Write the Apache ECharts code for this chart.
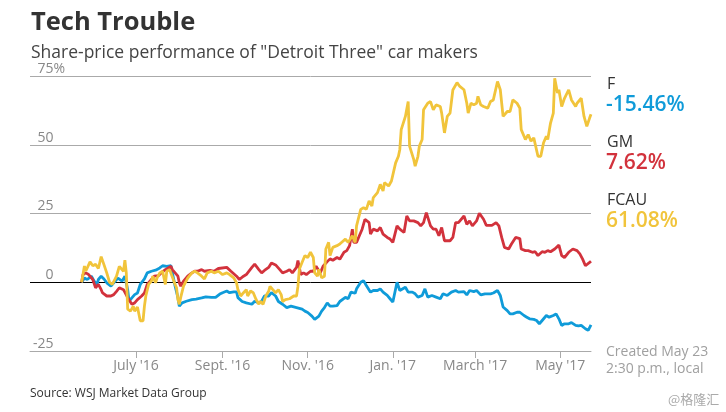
<!DOCTYPE html>
<html><head><meta charset="utf-8">
<script src="https://cdn.jsdelivr.net/npm/echarts@6/dist/echarts.min.js"></script>
<style>html,body{margin:0;padding:0;background:#fff}#c{width:726px;height:412px}</style>
</head><body><div id="c"></div>
<script>
const titleText = 'Tech Trouble';
const subtitleText = 'Share-price performance of "Detroit Three" car makers';
const startDate = '2016-05-23';
const tickDates = ['2016-07-01','2016-09-01','2016-11-01','2017-01-01','2017-03-01','2017-05-01'];
const tickLabels = ["July '16","Sept. '16","Nov. '16","Jan. '17","March '17","May '17"];
const yTicks = [-25, 0, 25, 50, 75];
const seriesNames = ['F', 'GM', 'FCAU'];
const finalChanges = ['-15.46%', '7.62%', '61.08%'];
const seriesColors = ['#0f9bd9', '#d2323c', '#f1c43b'];
const noteLines = ['Created May 23', '2:30 p.m., local'];
const sourceText = 'Source: WSJ Market Data Group';
const watermarkText = '@格隆汇';

// [days since start date, % change]
const fData = [[0,0],[2,1.5],[4,1],[7,2.2],[9,0.4],[11,-0.8],[12,1],[14,2.2],[16,1.2],[18,-0.2],[21,-1.4],[23,-0.2],[26,1.5],[27,2.2],[29,0.4],[31,2.2],[33,-2.7],[34,-6.9],[36,-5.7],[38,-4.5],[40,-3.9],[42,-0.8],[45,1.2],[47,3.4],[50,4],[53,4.4],[56,5.2],[58,6],[61,5.8],[64,6],[65,3.4],[67,-1.4],[69,-5.6],[70,-8.7],[72,-7.5],[75,-6.9],[79,-6.3],[82,-6.1],[86,-5.7],[89,-5.3],[93,-5.5],[96,-5.5],[99,-4.3],[101,-3.8],[104,-3.2],[106,-3.8],[109,-3.5],[111,-3.5],[112,-5.6],[115,-7],[118,-7.5],[122,-8],[124,-6.9],[127,-7.5],[129,-6.9],[131,-5],[134,-5],[136,-3.8],[139,-5],[141,-7],[144,-8],[147,-9.2],[150,-8.7],[154,-9.2],[158,-9.8],[160,-10.5],[162,-11],[165,-12.3],[167,-13.5],[170,-12.3],[172,-10.5],[174,-9.2],[176,-7.5],[178,-8.7],[180,-8.7],[183,-8.5],[185,-7],[189,-5.5],[191,-6],[193,-3.6],[196,-4],[197,-2.4],[200,0],[202,0.6],[204,-1.2],[207,-3.6],[209,-3],[212,-3],[214,-2.4],[216,-3.6],[219,-4.8],[221,-6],[223,-7.2],[226,0],[228,-3],[229,-2.4],[232,-1.8],[234,-3.6],[237,-3.6],[239,-4.2],[241,-5.4],[244,-4.8],[246,-2.4],[248,-5.4],[251,-4.8],[254,-5.4],[257,-6],[259,-4.2],[262,-4.8],[265,-3.6],[268,-3],[270,-3.6],[271,-3.6],[274,-3.4],[276,-4.6],[278,-3],[281,-3.4],[283,-3],[286,-4.6],[289,-4.2],[293,-4.2],[295,-3.9],[298,-3],[300,-4.8],[302,-9],[305,-10.3],[307,-11.5],[309,-11.5],[312,-10.9],[314,-10.9],[317,-12.1],[319,-12.7],[321,-13.3],[324,-13.5],[326,-13.9],[328,-15.1],[330,-13.9],[333,-12.1],[335,-12.7],[338,-12.1],[340,-11.5],[342,-13.3],[344,-15.7],[346,-15.1],[349,-15.1],[351,-14.7],[354,-15.7],[356,-15.9],[358,-15.7],[361,-16.9],[363,-17.5],[365,-15.46]];
const gmData = [[0,0],[1,2.8],[3,3.4],[5,2.8],[6,3.4],[8,1],[10,-2],[12,-0.8],[14,-2.7],[15,-3.9],[18,-5],[19,-4.5],[21,-5],[23,-4.5],[25,-3.3],[27,-2],[30,-2.7],[31,-2.7],[33,-5.6],[36,-8],[38,-7.5],[40,-6.3],[43,-5],[45,-3.9],[47,-0.8],[50,1],[52,2.2],[55,2.4],[57,3.4],[60,4.6],[62,5.2],[64,5.8],[65,4.6],[67,3.4],[69,2.2],[70,-0.2],[71,-1.4],[73,0.4],[76,2.2],[79,3.4],[81,4],[83,4],[86,4.6],[88,4],[92,4.3],[95,4],[98,5],[99,4.7],[104,5.4],[107,4],[111,2.2],[113,1],[116,2.2],[118,2.8],[122,5.4],[124,6.6],[127,4.6],[129,3.4],[131,4.3],[134,5.4],[136,7],[139,6.3],[142,4.6],[144,3.4],[147,4],[149,4.6],[151,3.4],[154,5.4],[155,7.9],[157,2.8],[159,3.4],[161,2.8],[164,4],[166,4],[168,5.8],[171,3.4],[173,5.8],[176,7.5],[178,8.5],[180,8],[183,9],[185,8.4],[188,10.9],[190,11.5],[192,13.3],[194,19.3],[195,14.5],[197,14.5],[199,16.9],[201,19.3],[203,22.9],[206,21.7],[207,17.5],[209,19.3],[212,18.7],[214,19.9],[216,17.5],[219,16.3],[221,15.7],[223,14.5],[226,20.5],[228,19.3],[231,18.1],[233,24.1],[235,22.3],[238,22.3],[241,21.7],[243,20.5],[245,21.7],[247,25.3],[250,20.5],[252,19.3],[254,19.3],[256,16.9],[258,19.9],[260,15.1],[264,15.1],[266,16.3],[268,21.7],[270,21.7],[271,22.3],[274,24.1],[276,21.1],[278,22.3],[280,20.5],[283,22.3],[285,25.1],[288,22.9],[290,20.7],[294,20.7],[297,21.7],[299,20.5],[301,16.3],[303,12.7],[306,12.1],[308,13.9],[311,16.3],[314,15.9],[315,12.1],[318,11.5],[320,11.5],[323,10.9],[325,11.1],[327,9.7],[330,11.1],[332,10.9],[334,11.5],[336,11.1],[339,12.1],[342,13.5],[344,9.7],[346,9],[349,10.9],[352,12.1],[355,11.5],[357,10.3],[359,8.4],[361,6],[364,7.2],[365,7.62]];
const fcauData = [[0,0],[2,5.9],[3,4.1],[6,7.4],[8,6],[10,6.5],[12,5],[14,9.3],[16,6.4],[18,3.4],[20,0],[22,-0.8],[25,2.2],[27,5.8],[28,5.6],[30,4],[31,8],[32,3.4],[33,-9.8],[35,-10.5],[37,-8.7],[38,-10.5],[40,-9],[42,-14],[44,-14],[45,-8.7],[46,-5],[48,-0.8],[50,0.4],[51,2.2],[53,-0.2],[54,1.5],[56,3.4],[58,4],[60,-0.8],[61,4],[63,4.6],[64,4.8],[67,-0.8],[68,-2],[69,-6.3],[70,-8],[71,-5.5],[73,-1.4],[76,1.5],[79,3.4],[81,4],[83,3.4],[86,2.2],[88,1.2],[90,3.4],[93,4],[95,3.4],[98,4],[99,4.7],[101,2.8],[104,3.4],[106,2.8],[109,1.6],[111,-0.2],[112,-2.7],[114,-5],[116,-3.8],[118,-2.7],[119,-5],[121,-3.2],[123,-3.8],[125,-6.3],[127,-8],[128,-6.9],[130,-8],[132,-5],[134,-3.3],[135,-1.5],[137,-2.7],[139,-3.8],[141,-2.7],[143,-4.5],[144,-7],[146,-6.3],[149,-6],[152,-5],[154,-5],[155,-1.5],[156,4.7],[158,7.3],[160,9.7],[162,9],[164,10.9],[166,9],[167,3.4],[169,2.2],[170,4.7],[172,1.6],[174,2.2],[175,12.1],[177,14.5],[178,9.7],[180,12.7],[183,13.3],[185,13.9],[189,15.7],[191,14.5],[194,16.9],[196,14.5],[197,20.5],[200,26.5],[202,27.1],[204,26.5],[206,29.6],[208,27.7],[209,30.8],[212,32.6],[214,35.6],[216,33.2],[217,36.2],[220,35],[222,36.8],[225,43.4],[227,45.8],[228,48.3],[229,55.5],[232,60.3],[234,65.7],[235,49.5],[238,44.6],[239,42.2],[241,45.8],[242,49.5],[244,51.9],[245,62.7],[248,65.1],[250,65.7],[252,62.7],[254,64.5],[257,63.9],[258,61.5],[260,54.3],[262,60.3],[264,61.5],[266,69.9],[269,72.6],[271,71.2],[274,70],[276,65.1],[277,61.5],[279,65.1],[281,64.5],[283,65.1],[284,67.6],[286,64.5],[288,63.9],[291,63.3],[293,65.7],[295,66.3],[298,73],[300,70],[302,60.3],[305,62.1],[307,62.1],[309,66.3],[312,65.1],[314,63.3],[315,55.5],[318,51.9],[320,53.7],[322,51.3],[324,52.5],[327,45.8],[329,45.8],[331,50.7],[333,53.1],[334,51.9],[336,57.9],[338,61.5],[339,74.2],[341,68.8],[342,70],[344,63.9],[346,66.9],[349,70],[351,66.3],[354,63.9],[355,65.1],[358,66.9],[360,60.3],[362,56.7],[364,59.7],[365,61.08]];

const FONT = '"Open Sans", "Noto Sans", sans-serif';
const DAY = 864e5;
const t0 = Date.parse(startDate + 'T00:00:00Z');
const toPts = arr => arr.map(p => [t0 + p[0] * DAY, p[1]]);
const tickTimes = tickDates.map(d => Date.parse(d + 'T00:00:00Z'));
const allData = [fData, gmData, fcauData];

const chart = echarts.init(document.getElementById('c'), null, {renderer: 'canvas'});

const graphics = [
  {type: 'text', x: 31, y: 23, style: {text: titleText, font: 'bold 25.5px ' + FONT, fill: '#333', verticalAlign: 'middle'}},
  {type: 'text', x: 31, y: 53, style: {text: subtitleText, font: '17.5px ' + FONT, fill: '#444', verticalAlign: 'middle'}},
  {type: 'text', x: 606, y: 352, style: {text: noteLines[0], font: '14px ' + FONT, fill: '#a0a0a0', verticalAlign: 'middle'}},
  {type: 'text', x: 606, y: 369, style: {text: noteLines[1], font: '14px ' + FONT, fill: '#a0a0a0', verticalAlign: 'middle'}},
  {type: 'text', x: 30, y: 394, style: {text: sourceText, font: '12px ' + FONT, fill: '#333', verticalAlign: 'middle'}},
  {type: 'text', x: 668, y: 399, style: {text: watermarkText, font: '13px "Noto Sans CJK SC", sans-serif', fill: '#aaa', verticalAlign: 'middle'}}
];
const legendY = [[84, 105], [142, 163], [200, 221]];
seriesNames.forEach((n, i) => {
  graphics.push({type: 'text', x: 607, y: legendY[i][0], style: {text: n, font: '16px ' + FONT, fill: '#333', verticalAlign: 'middle'}});
  graphics.push({type: 'text', x: 606, y: legendY[i][1], style: {text: finalChanges[i], font: '600 21px ' + FONT, fill: seriesColors[i], verticalAlign: 'middle'}});
});

const drawOrder = [1, 0, 2];
const option = {
  animation: false,
  backgroundColor: '#fff',
  grid: {left: 30, right: 135, top: 76, bottom: 61, containLabel: false},
  xAxis: {
    type: 'value',
    min: t0 - 37 * DAY,
    max: t0 + 365 * DAY,
    axisLine: {show: true, onZero: false, lineStyle: {color: '#aaa', width: 1}},
    axisTick: {show: true, customValues: tickTimes, length: 7, lineStyle: {color: '#aaa', width: 1}},
    axisLabel: {
      show: true, customValues: tickTimes, margin: 8,
      fontFamily: FONT, fontSize: 14, color: '#888',
      formatter: v => {
        let best = 0;
        tickTimes.forEach((t, i) => { if (Math.abs(t - v) < Math.abs(tickTimes[best] - v)) best = i; });
        return tickLabels[best];
      }
    },
    splitLine: {show: false}
  },
  yAxis: {
    type: 'value', min: yTicks[0], max: yTicks[yTicks.length - 1], interval: 25,
    axisLine: {show: false}, axisTick: {show: false},
    splitLine: {show: true, lineStyle: {color: yTicks.map(v => v === 0 ? '#000' : '#aaa'), width: 1}},
    axisLabel: {
      inside: true, align: 'right', margin: 35, verticalAlign: 'bottom',
      formatter: v => v === yTicks[yTicks.length - 1] ? '{n|' + v + '%}' : '{n|' + v + '}{h|%}',
      rich: {
        n: {fontFamily: FONT, fontSize: 14, color: '#888'},
        h: {fontFamily: FONT, fontSize: 14, color: 'rgba(0,0,0,0)'}
      }
    }
  },
  series: drawOrder.map(i => ({
    name: seriesNames[i], type: 'line', data: toPts(allData[i]),
    showSymbol: false, symbol: 'none',
    lineStyle: {color: seriesColors[i], width: 2.8}, itemStyle: {color: seriesColors[i]},
    z: 2 + i
  })),
  graphic: graphics
};
chart.setOption(option);
</script></body></html>
